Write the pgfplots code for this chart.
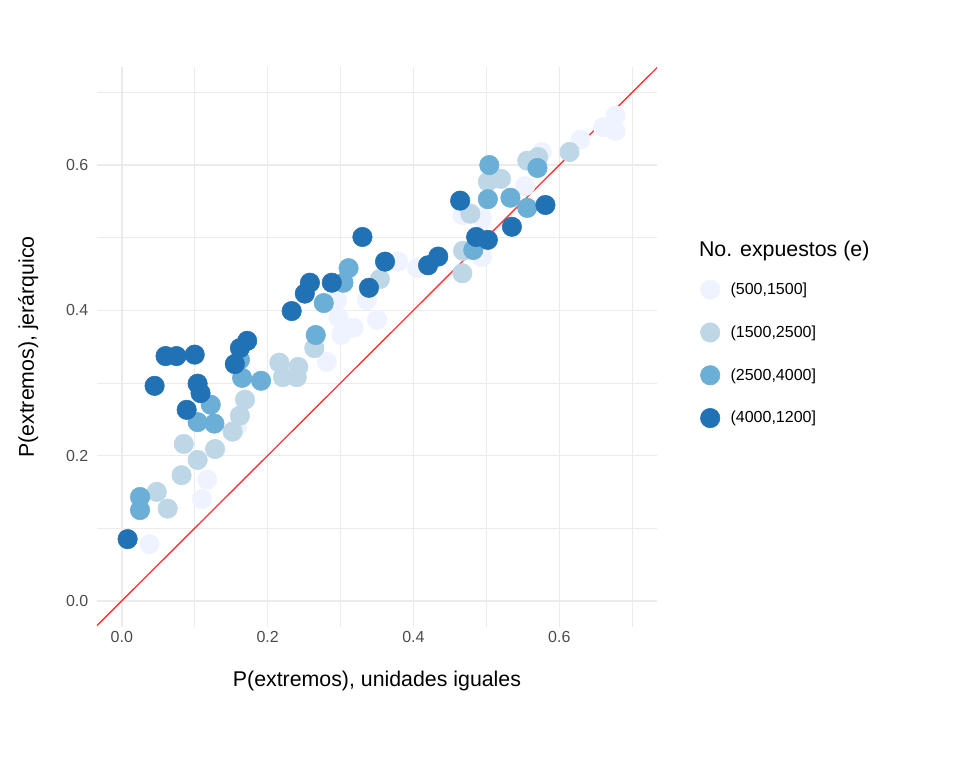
\documentclass[border=0pt]{standalone}
\usepackage{pgfplots}
\pgfplotsset{compat=1.18}
\usepackage{fontspec}
\setmainfont{Liberation Sans}
\definecolor{c1}{HTML}{EFF3FF}
\definecolor{c2}{HTML}{BDD7E7}
\definecolor{c3}{HTML}{6BAED6}
\definecolor{c4}{HTML}{2171B5}
\definecolor{gridc}{HTML}{EBEBEB}
\begin{document}
\begin{tikzpicture}
\path[use as bounding box] (-72.75pt,-105.75pt) rectangle (647.25pt,470.25pt);
\begin{axis}[
  at={(0,0)}, anchor=south west, scale only axis,
  width=420pt, height=420pt,
  xmin=-0.034, xmax=0.734, ymin=-0.036, ymax=0.735,
  axis line style={draw=none}, tick style={draw=none},
  xtick={0,0.2,0.4,0.6}, ytick={0,0.2,0.4,0.6},
  minor xtick={0.1,0.3,0.5,0.7}, minor ytick={0.1,0.3,0.5,0.7},
  grid=both,
  major grid style={gridc, line width=1.1pt},
  minor grid style={gridc, line width=0.55pt},
  xticklabel style={font=\fontsize{12}{14}\selectfont, text=black!70},
  yticklabel style={font=\fontsize{12}{14}\selectfont, text=black!70, xshift=-3pt},
  /pgf/number format/assume math mode=true,
  /pgf/number format/.cd, fixed, fixed zerofill, precision=1, /pgfplots/.cd,
  xlabel={P(extremos), unidades iguales},
  ylabel={P(extremos), jerárquico},
  label style={font=\fontsize{16}{19}\selectfont},
  xlabel style={yshift=-14pt}, ylabel style={yshift=14pt},
  legend style={draw=none, fill=none, at={(1.07,0.625)}, anchor=north west,
    font=\fontsize{12}{14}\selectfont, row sep=17.5pt,
    nodes={inner xsep=8pt}},
  legend cell align=left,
  clip mode=individual,
]
\addplot[red!80!white, line width=1pt, forget plot] coordinates {(-0.06,-0.06) (0.8,0.8)};
\addplot[only marks, mark=*, mark size=7.3pt, mark options={draw=c1, fill=c1}] coordinates {
(0.038,0.078)(0.110,0.140)(0.117,0.167)(0.158,0.240)(0.281,0.329)(0.301,0.366)(0.318,0.376)
(0.297,0.390)(0.292,0.412)(0.350,0.387)(0.336,0.414)(0.379,0.467)(0.405,0.458)(0.494,0.473)
(0.467,0.531)(0.494,0.527)(0.553,0.571)(0.576,0.618)(0.629,0.635)(0.660,0.652)(0.677,0.668)
(0.677,0.647)(0.302,0.369)(0.295,0.414)
};
\addlegendentry{(500,1500]}
\addplot[only marks, mark=*, mark size=7.3pt, mark options={draw=c2, fill=c2}] coordinates {
(0.048,0.150)(0.063,0.127)(0.082,0.173)(0.085,0.216)(0.104,0.194)(0.128,0.209)(0.152,0.233)
(0.162,0.255)(0.169,0.277)(0.216,0.328)(0.221,0.308)(0.242,0.322)(0.240,0.308)(0.264,0.348)
(0.354,0.443)(0.467,0.451)(0.468,0.482)(0.478,0.533)(0.502,0.577)(0.520,0.581)(0.556,0.606)
(0.571,0.611)(0.614,0.618)
};
\addlegendentry{(1500,2500]}
\addplot[only marks, mark=*, mark size=7.3pt, mark options={draw=c3, fill=c3}] coordinates {
(0.025,0.143)(0.025,0.125)(0.104,0.246)(0.122,0.270)(0.127,0.244)(0.165,0.307)(0.162,0.332)
(0.191,0.303)(0.266,0.366)(0.277,0.410)(0.311,0.458)(0.304,0.438)(0.504,0.600)(0.502,0.553)
(0.533,0.555)(0.556,0.541)(0.570,0.596)(0.482,0.483)
};
\addlegendentry{(2500,4000]}
\addplot[only marks, mark=*, mark size=7.3pt, mark options={draw=c4, fill=c4}] coordinates {
(0.008,0.085)(0.045,0.296)(0.060,0.337)(0.075,0.337)(0.100,0.339)(0.104,0.299)(0.108,0.286)
(0.089,0.263)(0.155,0.326)(0.162,0.348)(0.172,0.358)(0.233,0.399)(0.251,0.423)(0.258,0.438)
(0.288,0.438)(0.330,0.501)(0.339,0.431)(0.361,0.467)(0.420,0.462)(0.434,0.474)(0.464,0.551)
(0.486,0.501)(0.502,0.497)(0.535,0.515)(0.581,0.545)
};
\addlegendentry{(4000,1200]}
\end{axis}
\node[anchor=west, font=\fontsize{16}{19}\selectfont] at (448pt,282pt) {No. expuestos (e)};
\end{tikzpicture}
\end{document}
